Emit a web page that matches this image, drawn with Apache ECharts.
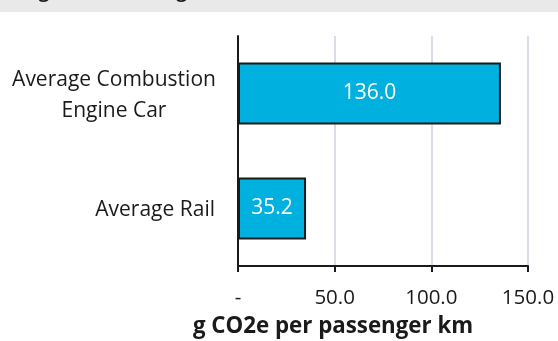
<!DOCTYPE html>
<html>
<head>
<meta charset="utf-8">
<style>
  html, body { margin: 0; padding: 0; background: #ffffff; }
  #chart { width: 558px; height: 341px; }
</style>
<script src="https://cdn.jsdelivr.net/npm/echarts@6/dist/echarts.min.js"></script>
</head>
<body>
<div id="chart"></div>
<script>
// Categories, listed bottom to top on the category axis
const categories = ['Average Rail', 'Average Combustion Engine Car'];
// Emissions in g CO2e per passenger km
const emissions = [35.2, 136.0];
// Value axis ticks
const tickValues = [0, 50, 100, 150];
const tickLabels = ['-', '50.0', '100.0', '150.0'];
const axisTitle = 'g CO2e per passenger km';
const titleText = 'Average Emissions Figures';

const FONT = 'Open Sans';
const INK = '#1a1a1a';
const chart = echarts.init(document.getElementById('chart'), null, { renderer: 'canvas' });

chart.setOption({
  backgroundColor: '#ffffff',
  animation: false,
  grid: { left: 238, right: 30, top: 36, bottom: 75, containLabel: false },
  xAxis: {
    type: 'value',
    min: tickValues[0],
    max: tickValues[tickValues.length - 1],
    interval: tickValues[1] - tickValues[0],
    axisLine: { show: true, lineStyle: { color: INK, width: 2 } },
    axisTick: { show: true, length: 6, lineStyle: { color: INK, width: 2 } },
    splitLine: { show: true, lineStyle: { color: '#d9dde6', width: 2 } },
    axisLabel: {
      margin: 22,
      fontFamily: FONT,
      fontSize: 20.5,
      color: INK,
      formatter: function (v) {
        const i = tickValues.indexOf(v);
        return i >= 0 ? tickLabels[i] : '';
      }
    }
  },
  yAxis: {
    type: 'category',
    data: categories,
    axisLine: { show: true, lineStyle: { color: INK, width: 2 } },
    axisTick: { show: false },
    axisLabel: {
      margin: 23,
      fontFamily: FONT,
      fontSize: 21,
      color: INK,
      lineHeight: 31,
      padding: [4, 0, 0, 0],
      formatter: function (v) {
        if (v === 'Average Combustion Engine Car') {
          return '{c|Average Combustion}\n{c|Engine Car}';
        }
        return v;
      },
      rich: {
        c: { width: 202, align: 'center', fontFamily: FONT, fontSize: 21, color: INK, lineHeight: 31 }
      }
    }
  },
  series: [{
    type: 'bar',
    data: emissions,
    barWidth: '54%',
    itemStyle: { color: '#00b0de', borderColor: INK, borderWidth: 2 },
    label: {
      show: true,
      position: 'inside',
      color: '#ffffff',
      fontFamily: FONT,
      fontSize: 21,
      formatter: function (p) { return p.value.toFixed(1); }
    }
  }],
  graphic: [
    {
      type: 'rect',
      left: 0, top: 0,
      shape: { width: 558, height: 12 },
      style: { fill: '#e9e9e9' },
      z: 0
    },
    {
      type: 'text',
      x: -15, y: -7.5,
      style: {
        text: titleText,
        fontFamily: FONT,
        fontWeight: 'bold',
        fontSize: 18.5,
        fill: INK,
        textVerticalAlign: 'middle'
      },
      z: 1
    },
    {
      type: 'text',
      x: 333, y: 327,
      style: {
        text: axisTitle,
        fontFamily: FONT,
        fontWeight: 'bold',
        fontSize: 22.3,
        fill: INK,
        textAlign: 'center',
        textVerticalAlign: 'middle'
      }
    }
  ]
});
</script>
</body>
</html>
